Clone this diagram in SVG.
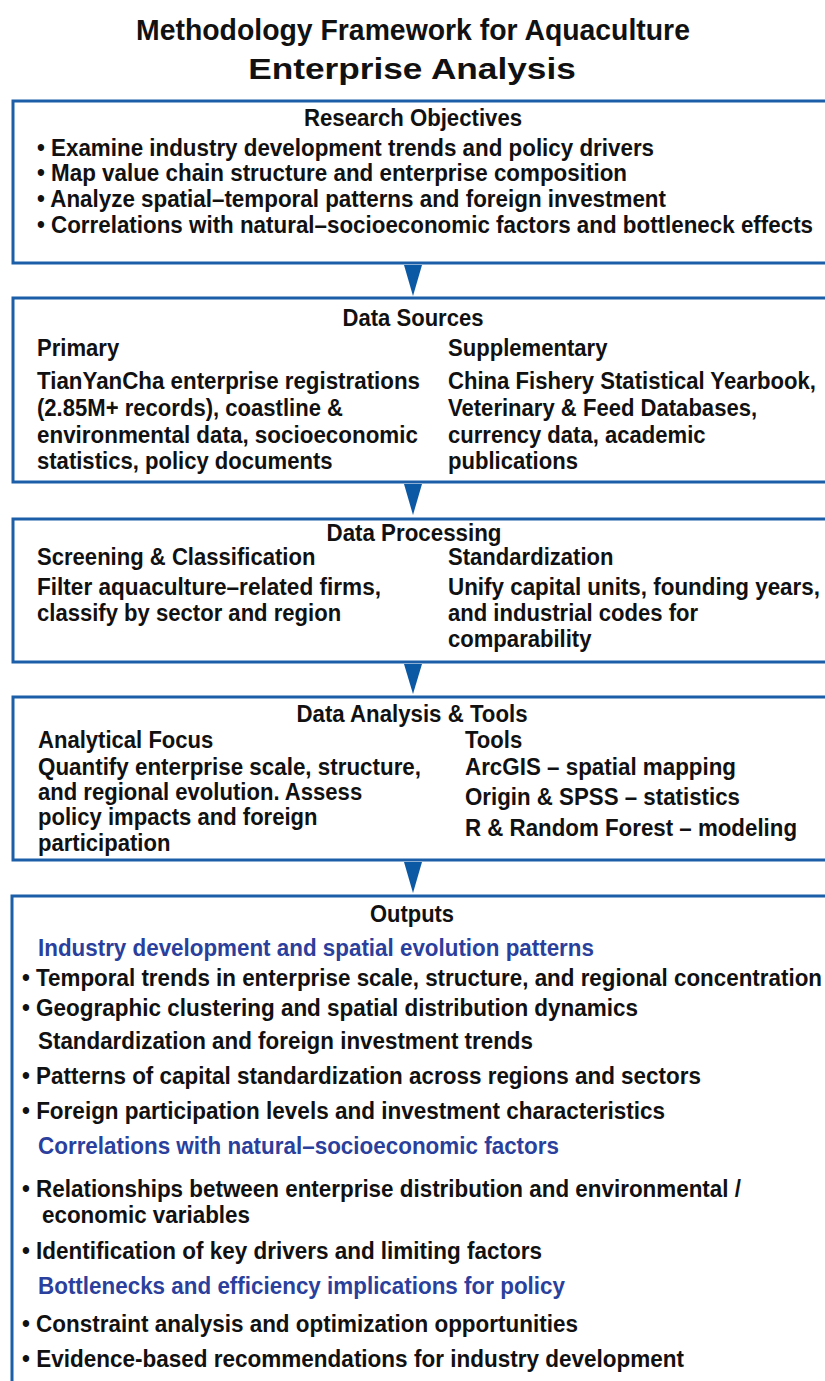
<svg xmlns="http://www.w3.org/2000/svg" width="825" height="1381" viewBox="0 0 825 1381">
<style>
.box{fill:#ffffff;stroke:#1c5fa8;stroke-width:3}
.arr{fill:#0b58a5}
text{font-family:"Liberation Sans",Arial,sans-serif;font-weight:bold;font-size:24px;fill:#111111}
.title{font-size:30px}
.c{text-anchor:middle}
.blue{fill:#2b3f9c}
</style>
<rect width="825" height="1381" fill="#ffffff"/>
<g id="title">
<text class="title c" transform="translate(413 40) scale(.92 1)" textLength="602" lengthAdjust="spacingAndGlyphs">Methodology Framework for Aquaculture</text>
<text class="title c" transform="translate(412 79) scale(.92 1)" textLength="356" lengthAdjust="spacingAndGlyphs">Enterprise Analysis</text>
</g>
<g id="connectors">
<polygon class="arr" points="404,265 422,265 413,296"/>
<polygon class="arr" points="404,484 422,484 413,515"/>
<polygon class="arr" points="404,664 422,664 413,694"/>
<polygon class="arr" points="404,862 422,862 413,893"/>
</g>
<g id="research-objectives">
<rect class="box" x="13" y="101" width="830" height="162"/>
<text class="c" transform="translate(413 126) scale(.92 1)" textLength="237" lengthAdjust="spacingAndGlyphs">Research Objectives</text>
<text transform="translate(37 156) scale(.92 1)" textLength="670.7" lengthAdjust="spacingAndGlyphs">• Examine industry development trends and policy drivers</text>
<text transform="translate(37 181) scale(.92 1)" textLength="641.3" lengthAdjust="spacingAndGlyphs">• Map value chain structure and enterprise composition</text>
<text transform="translate(37 207) scale(.92 1)" textLength="683.7" lengthAdjust="spacingAndGlyphs">• Analyze spatial–temporal patterns and foreign investment</text>
<text transform="translate(37 233) scale(.92 1)" textLength="843.5" lengthAdjust="spacingAndGlyphs">• Correlations with natural–socioeconomic factors and bottleneck effects</text>
</g>
<g id="data-sources">
<rect class="box" x="13" y="298" width="830" height="184"/>
<text class="c" transform="translate(413 326) scale(.92 1)" textLength="153.3" lengthAdjust="spacingAndGlyphs">Data Sources</text>
<text transform="translate(37 356) scale(.92 1)">Primary</text>
<text transform="translate(37 389) scale(.92 1)" textLength="416.3" lengthAdjust="spacingAndGlyphs">TianYanCha enterprise registrations</text>
<text transform="translate(37 416) scale(.92 1)">(2.85M+ records), coastline &amp;</text>
<text transform="translate(37 443) scale(.92 1)" textLength="414.1" lengthAdjust="spacingAndGlyphs">environmental data, socioeconomic</text>
<text transform="translate(37 469) scale(.92 1)">statistics, policy documents</text>
<text transform="translate(448 356) scale(.92 1)">Supplementary</text>
<text transform="translate(448 389) scale(.92 1)" textLength="400" lengthAdjust="spacingAndGlyphs">China Fishery Statistical Yearbook,</text>
<text transform="translate(448 416) scale(.92 1)">Veterinary &amp; Feed Databases,</text>
<text transform="translate(448 443) scale(.92 1)">currency data, academic</text>
<text transform="translate(448 469) scale(.92 1)">publications</text>
</g>
<g id="data-processing">
<rect class="box" x="13" y="519" width="830" height="143"/>
<text class="c" transform="translate(414 541) scale(.92 1)" textLength="190.2" lengthAdjust="spacingAndGlyphs">Data Processing</text>
<text transform="translate(37 565) scale(.92 1)">Screening &amp; Classification</text>
<text transform="translate(448 565) scale(.92 1)">Standardization</text>
<text transform="translate(37 595) scale(.92 1)" textLength="373.9" lengthAdjust="spacingAndGlyphs">Filter aquaculture–related firms,</text>
<text transform="translate(37 621) scale(.92 1)">classify by sector and region</text>
<text transform="translate(448 595) scale(.92 1)" textLength="404.3" lengthAdjust="spacingAndGlyphs">Unify capital units, founding years,</text>
<text transform="translate(448 621) scale(.92 1)">and industrial codes for</text>
<text transform="translate(448 647) scale(.92 1)">comparability</text>
</g>
<g id="data-analysis">
<rect class="box" x="13" y="697" width="830" height="163"/>
<text class="c" transform="translate(412 722) scale(.92 1)" textLength="251.1" lengthAdjust="spacingAndGlyphs">Data Analysis &amp; Tools</text>
<text transform="translate(38 748) scale(.92 1)">Analytical Focus</text>
<text transform="translate(465 748) scale(.92 1)">Tools</text>
<text transform="translate(38 775) scale(.92 1)" textLength="416.3" lengthAdjust="spacingAndGlyphs">Quantify enterprise scale, structure,</text>
<text transform="translate(38 800) scale(.92 1)">and regional evolution. Assess</text>
<text transform="translate(38 825) scale(.92 1)">policy impacts and foreign</text>
<text transform="translate(38 851) scale(.92 1)">participation</text>
<text transform="translate(465 775) scale(.92 1)" textLength="294.6" lengthAdjust="spacingAndGlyphs">ArcGIS – spatial mapping</text>
<text transform="translate(465 805) scale(.92 1)" textLength="298.9" lengthAdjust="spacingAndGlyphs">Origin &amp; SPSS – statistics</text>
<text transform="translate(465 836) scale(.92 1)" textLength="360.9" lengthAdjust="spacingAndGlyphs">R &amp; Random Forest – modeling</text>
</g>
<g id="outputs">
<rect class="box" x="12" y="896" width="830" height="600"/>
<text class="c" transform="translate(412 922) scale(.92 1)" textLength="91.3" lengthAdjust="spacingAndGlyphs">Outputs</text>
<text class="blue" transform="translate(38 956) scale(.92 1)" textLength="604.3" lengthAdjust="spacingAndGlyphs">Industry development and spatial evolution patterns</text>
<text transform="translate(22 986) scale(.92 1)" textLength="869.6" lengthAdjust="spacingAndGlyphs">• Temporal trends in enterprise scale, structure, and regional concentration</text>
<text transform="translate(22 1016) scale(.92 1)" textLength="669.6" lengthAdjust="spacingAndGlyphs">• Geographic clustering and spatial distribution dynamics</text>
<text transform="translate(38 1049) scale(.92 1)" textLength="538" lengthAdjust="spacingAndGlyphs">Standardization and foreign investment trends</text>
<text transform="translate(22 1084) scale(.92 1)" textLength="738" lengthAdjust="spacingAndGlyphs">• Patterns of capital standardization across regions and sectors</text>
<text transform="translate(22 1119) scale(.92 1)" textLength="698.9" lengthAdjust="spacingAndGlyphs">• Foreign participation levels and investment characteristics</text>
<text class="blue" transform="translate(38 1154) scale(.92 1)" textLength="566.3" lengthAdjust="spacingAndGlyphs">Correlations with natural–socioeconomic factors</text>
<text transform="translate(22 1197) scale(.92 1)" textLength="781.5" lengthAdjust="spacingAndGlyphs">• Relationships between enterprise distribution and environmental /</text>
<text transform="translate(42 1223) scale(.92 1)" textLength="226.1" lengthAdjust="spacingAndGlyphs">economic variables</text>
<text transform="translate(22 1259) scale(.92 1)" textLength="565.2" lengthAdjust="spacingAndGlyphs">• Identification of key drivers and limiting factors</text>
<text class="blue" transform="translate(38 1294) scale(.92 1)" textLength="572.8" lengthAdjust="spacingAndGlyphs">Bottlenecks and efficiency implications for policy</text>
<text transform="translate(22 1332) scale(.92 1)" textLength="604.3" lengthAdjust="spacingAndGlyphs">• Constraint analysis and optimization opportunities</text>
<text transform="translate(22 1367) scale(.92 1)" textLength="719.6" lengthAdjust="spacingAndGlyphs">• Evidence-based recommendations for industry development</text>
</g>
</svg>
